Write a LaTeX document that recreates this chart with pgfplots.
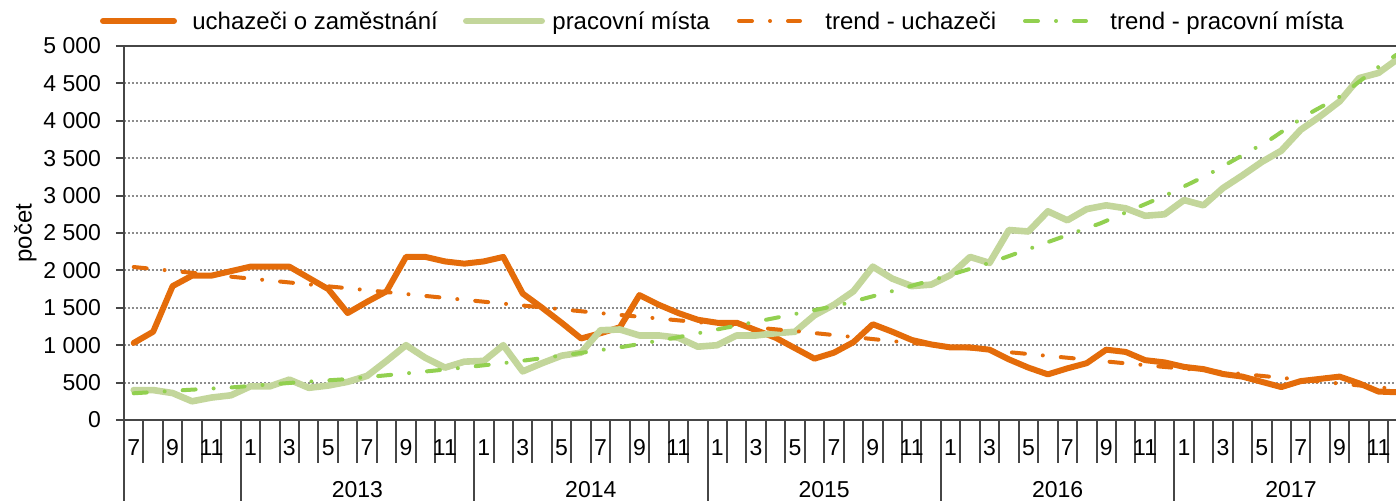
\documentclass[border=0pt]{standalone}
\usepackage{pgfplots}
\pgfplotsset{compat=1.18}
\usepackage{fontspec}
\setmainfont{Liberation Sans}
\definecolor{orng}{RGB}{228,108,10}
\definecolor{lgreen}{RGB}{195,214,155}
\definecolor{tgreen}{RGB}{146,208,80}
\definecolor{axgray}{RGB}{70,70,70}
\definecolor{gridgray}{RGB}{140,140,140}
\tikzset{trendpat/.style={line width=2pt, line cap=round, dash pattern=on 6.5pt off 9pt on 0.01pt off 9pt}}
\begin{document}
\begin{tikzpicture}
\begin{axis}[
  scale only axis, width=641.85pt, height=187pt,
  xmin=-0.5, xmax=65.5, ymin=0, ymax=5000,
  clip=false,
  axis lines=left,
  axis line style={-, draw=axgray, line width=1.4pt},
  every outer x axis line/.append style={-},
  every outer y axis line/.append style={-},
  tick align=outside,
  major tick length=4pt, minor tick length=21.5pt,
  xtick={0,2,...,64},
  xticklabels={7,9,11,1,3,5,7,9,11,1,3,5,7,9,11,1,3,5,7,9,11,1,3,5,7,9,11,1,3,5,7,9,11},
  minor xtick={-0.5,0.5,...,65.5},
  every major x tick/.append style={draw=none},
  every minor x tick/.append style={draw=axgray, line width=1pt},
  every major y tick/.append style={draw=axgray, line width=1pt},
  extra x ticks={11.5,23.5,35.5,47.5,59.5},
  extra x tick labels={2013,2014,2015,2016,2017},
  extra x tick style={grid=none, xticklabel style={yshift=-21pt}},
  xticklabel style={anchor=center, yshift=-10pt},
  ytick={0,500,...,5000},
  yticklabel style={xshift=-4pt},
  ymajorgrids,
  major grid style={draw=gridgray, line width=1pt, dash pattern=on 1pt off 1pt},
  /pgf/number format/assume math mode=true,
  /pgf/number format/1000 sep={\ },
  tick label style={font=\fontsize{11.5}{13}\selectfont, text=black},
  ylabel={počet},
  ylabel style={at={(axis description cs:-0.0678,0.5)}, anchor=south, inner sep=0pt, font=\fontsize{12}{14}\selectfont},
]
\addplot[orng, line width=3pt, line cap=round, line join=round]
  coordinates {(0,1030)(1,1180)(2,1790)(3,1930)(4,1930)(5,1990)(6,2050)(7,2050)(8,2050)(9,1900)(10,1750)(11,1430)(12,1580)(13,1720)(14,2180)(15,2180)(16,2120)(17,2090)(18,2120)(19,2180)(20,1690)(21,1500)(22,1300)(23,1090)(24,1160)(25,1240)(26,1670)(27,1540)(28,1430)(29,1340)(30,1300)(31,1300)(32,1200)(33,1100)(34,960)(35,820)(36,900)(37,1040)(38,1280)(39,1180)(40,1070)(41,1010)(42,970)(43,970)(44,940)(45,810)(46,700)(47,610)(48,690)(49,760)(50,940)(51,910)(52,800)(53,770)(54,710)(55,680)(56,615)(57,580)(58,510)(59,440)(60,520)(61,550)(62,580)(63,490)(64,380)(65,370)};
\addplot[lgreen, line width=3.3pt, line cap=round, line join=round]
  coordinates {(0,400)(1,400)(2,360)(3,250)(4,300)(5,330)(6,450)(7,450)(8,540)(9,430)(10,460)(11,510)(12,590)(13,790)(14,1000)(15,830)(16,700)(17,780)(18,790)(19,1000)(20,650)(21,760)(22,860)(23,900)(24,1200)(25,1210)(26,1130)(27,1130)(28,1100)(29,980)(30,1000)(31,1130)(32,1130)(33,1160)(34,1180)(35,1400)(36,1540)(37,1720)(38,2050)(39,1890)(40,1790)(41,1810)(42,1940)(43,2180)(44,2100)(45,2540)(46,2520)(47,2790)(48,2670)(49,2820)(50,2870)(51,2830)(52,2730)(53,2750)(54,2940)(55,2870)(56,3100)(57,3270)(58,3450)(59,3600)(60,3880)(61,4060)(62,4260)(63,4570)(64,4640)(65,4830)};
\addplot[orng, trendpat]
  coordinates {(0,2045)(16.6,1617)(24.1,1426)(34.3,1181)(39.3,1047)(46.9,860)(51.9,735)(57,615)(61.9,490)(64.5,424)(64.9,415)};
\addplot[tgreen, trendpat]
  coordinates {(0,357)(2.7,401)(5.1,437)(8.2,499)(10.8,544)(13.7,615)(16.3,682)(19.5,775)(22.6,882)(25.2,980)(27.7,1092)(32.9,1360)(36.3,1537)(39.4,1750)(41.8,1925)(44.2,2117)(47.3,2406)(49.7,2629)(53.1,3008)(55.2,3275)(56.5,3465)(58.4,3743)(60.3,4078)(62,4322)(63.9,4702)(64.9,4880)};
\coordinate (BL) at (rel axis cs:0,0);
\draw[axgray, line width=1.4pt] (rel axis cs:0,1) -- (rel axis cs:1,1);
\pgfplotsinvokeforeach{-0.5,5.5,17.5,29.5,41.5,53.5}{
  \draw[axgray, line width=1pt] (axis cs:#1,0) -- ++(0pt,-45pt);
}
\end{axis}
% legend
\begin{scope}[every node/.style={anchor=base west, inner sep=0pt, font=\fontsize{12}{14}\selectfont}]
\draw[orng, line width=3pt, line cap=round] ([xshift=-10.5pt,yshift=199.5pt]BL) -- ([xshift=25pt,yshift=199.5pt]BL);
\node at ([xshift=34pt,yshift=195pt]BL) {uchazeči o zaměstnání};
\draw[lgreen, line width=3.3pt, line cap=round] ([xshift=171.15pt,yshift=199.5pt]BL) -- ([xshift=208.85pt,yshift=199.5pt]BL);
\node at ([xshift=214pt,yshift=195pt]BL) {pracovní místa};
\draw[orng, trendpat] ([xshift=307.5pt,yshift=199.5pt]BL) -- ([xshift=338pt,yshift=199.5pt]BL);
\node at ([xshift=350.5pt,yshift=195pt]BL) {trend - uchazeči};
\draw[tgreen, trendpat] ([xshift=450.5pt,yshift=199.5pt]BL) -- ([xshift=481pt,yshift=199.5pt]BL);
\node at ([xshift=493pt,yshift=195pt]BL) {trend - pracovní místa};
\end{scope}
\pgfresetboundingbox
\useasboundingbox ([xshift=-62pt,yshift=-40.5pt]BL) rectangle ([xshift=636pt,yshift=210pt]BL);
\end{tikzpicture}
\end{document}
